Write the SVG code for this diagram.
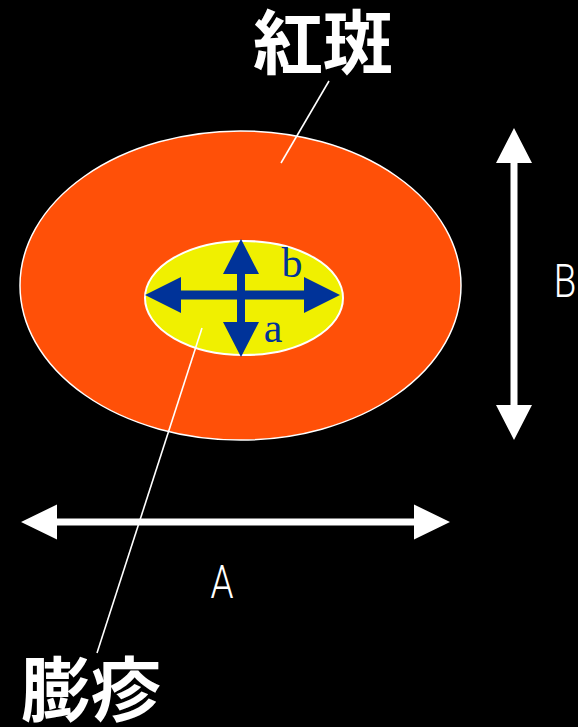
<svg xmlns="http://www.w3.org/2000/svg" width="578" height="727" viewBox="0 0 578 727">
<style>
.cjk{font-family:"Noto Sans CJK JP","Noto Sans CJK TC",sans-serif;font-weight:bold;font-size:70px;fill:#fff}
.lat{font-family:"Roboto","Noto Sans",sans-serif;font-weight:300;font-size:46px;fill:#fff}
.ser{font-family:"Liberation Serif",serif;font-size:42px;fill:#003399}
.lead{stroke:#fff;stroke-width:1.6;fill:none}
.wa{fill:#fff}
.ba{fill:#003399}
</style>
<rect width="578" height="727" fill="#000"/>
<g id="erythema">
<ellipse cx="240.5" cy="285.5" rx="220.5" ry="154.5" fill="#FF5008" stroke="#fff" stroke-width="1.5"/>
</g>
<g id="wheal">
<ellipse cx="244" cy="298" rx="99" ry="57" fill="#F0F000" stroke="#fff" stroke-width="2"/>
</g>
<g id="connectors">
<line class="lead" x1="329" y1="81" x2="281" y2="163"/>
<line class="lead" x1="202" y1="328" x2="97" y2="653"/>
<polygon class="ba" points="145,295 181,277 181,290.5 304,290.5 304,277 340,295 304,313 304,299.5 181,299.5 181,313"/>
<polygon class="ba" points="241,239 259,274 245,274 245,322 259,322 241,357 223,322 237,322 237,274 223,274"/>
<polygon class="wa" points="21,522 57,504.5 57,518.5 414,518.5 414,504.5 450,522 414,539.5 414,525.5 57,525.5 57,539.5"/>
<polygon class="wa" points="514,128 532,163 517.5,163 517.5,405 532,405 514,440 496,405 510.5,405 510.5,163 496,163"/>
</g>
<g id="label-erythema"><text class="cjk" x="253" y="69">紅斑</text></g>
<g id="label-wheal"><text class="cjk" x="21" y="716">膨疹</text></g>
<g id="label-a"><text class="ser" x="273" y="342" text-anchor="middle">a</text></g>
<g id="label-b"><text class="ser" x="292" y="277" text-anchor="middle">b</text></g>
<g id="label-A"><text class="lat" x="222" y="598" text-anchor="middle" transform="translate(222 0) scale(0.8 1) translate(-222 0)">A</text></g>
<g id="label-B"><text class="lat" x="565" y="297" text-anchor="middle" transform="translate(565 0) scale(0.8 1) translate(-565 0)">B</text></g>
</svg>
